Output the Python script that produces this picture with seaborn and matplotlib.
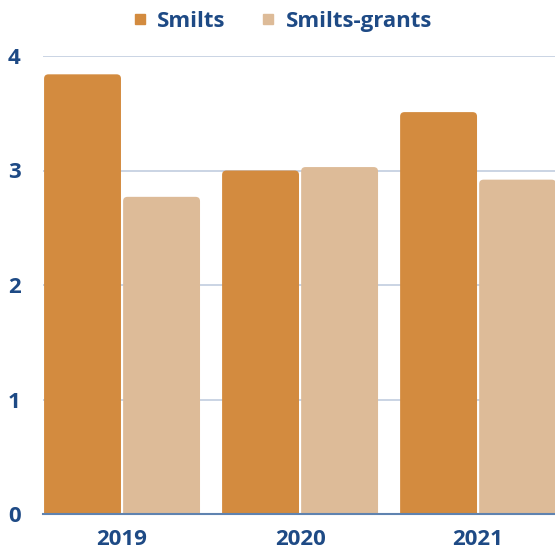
import seaborn as sns
import matplotlib.pyplot as plt
import pandas as pd
from matplotlib.patches import FancyBboxPatch

# Data
years = ["2019", "2020", "2021"]
smilts = [3.84, 3.00, 3.51]
smilts_grants = [2.77, 3.03, 2.92]
series = ["Smilts", "Smilts-grants"]
colors = ["#D38B3F", "#DDBB98"]
text_color = "#1E4A85"

df = pd.DataFrame({
    "year": years * 2,
    "value": smilts + smilts_grants,
    "series": [series[0]] * 3 + [series[1]] * 3,
})

sns.set_style("white")
plt.rcParams["font.family"] = ["Open Sans", "DejaVu Sans"]

fig = plt.figure(figsize=(5.55, 5.51), dpi=100)
ax = fig.add_axes([43 / 555, 37 / 551, 1 - 43 / 555, (514 - 56) / 551])

sns.barplot(data=df, x="year", y="value", hue="series", palette=colors,
            width=0.888, ax=ax, legend=False, saturation=1)

# swap plain rectangles for ones with slightly rounded tops
bars = [p for p in ax.patches]
for p in bars:
    x, w, h = p.get_x(), p.get_width(), p.get_height()
    fc = p.get_facecolor()
    p.remove()
    gap = 0.006
    rb = FancyBboxPatch((x + gap, -0.1), w - 2 * gap, h + 0.1,
                        boxstyle="round,pad=0,rounding_size=0.025",
                        mutation_aspect=1.5, facecolor=fc, edgecolor="none",
                        zorder=2)
    ax.add_patch(rb)

ax.set_xlim(-0.444, 2.432)
ax.set_ylim(0, 4)
ax.set_yticks([0, 1, 2, 3, 4])
ax.grid(axis="y", color="#C6D1E2", linewidth=1.3, zorder=0)
ax.set_axisbelow(True)
for s in ["top", "right", "left"]:
    ax.spines[s].set_visible(False)
ax.spines["bottom"].set_color("#5F83B0")
ax.spines["bottom"].set_linewidth(1.5)
ax.spines["bottom"].set_zorder(3)

ax.set_xlabel("")
ax.set_ylabel("")
ax.tick_params(axis="both", length=0, labelsize=16, labelcolor=text_color)
ax.tick_params(axis="x", pad=11)
ax.tick_params(axis="y", pad=16)
for lbl in ax.get_xticklabels() + ax.get_yticklabels():
    lbl.set_fontweight("bold")

handles = [plt.Line2D([], [], marker="s", linestyle="", markersize=7.5,
                      color=c) for c in colors]
fig.legend(handles, series, loc="center", bbox_to_anchor=(0.505, 0.961),
           ncol=2, frameon=False, handletextpad=0.3, columnspacing=1.4,
           handlelength=1.0, prop={"weight": "bold", "size": 16},
           labelcolor=text_color)

fig.savefig("out.png", dpi=100)
